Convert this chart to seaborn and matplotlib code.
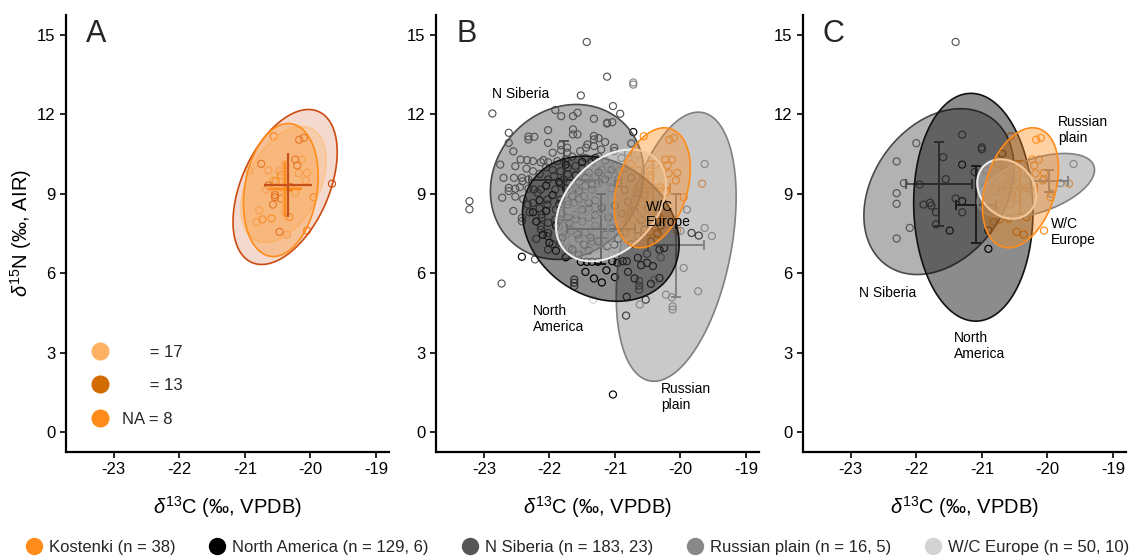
import numpy as np
import pandas as pd
import matplotlib
matplotlib.use("Agg")
import matplotlib.pyplot as plt
import seaborn as sns
from matplotlib.lines import Line2D
from matplotlib.patches import Polygon
from matplotlib.colors import to_rgba

# ---------------- DATA ----------------
# Kostenki points (same in every panel), with sub-group for panel A
kost_light = [(-20.93, 9.88), (-20.64, 9.88), (-20.47, 9.85), (-20.13, 10.29), (-20.18, 9.77),
              (-20.05, 9.79), (-20.78, 8.37), (-20.82, 7.93), (-20.36, 7.46), (-20.56, 9.50),
              (-20.42, 9.22), (-20.32, 9.22), (-20.54, 9.04), (-20.68, 9.16), (-20.38, 10.10),
              (-20.23, 9.04), (-20.07, 9.50)]
kost_dark = [(-20.75, 10.13), (-20.20, 10.07), (-20.23, 10.29), (-19.67, 9.38), (-20.10, 11.11),
             (-20.17, 11.04), (-20.54, 8.87), (-20.45, 8.82), (-20.47, 7.56), (-20.64, 9.31),
             (-20.57, 8.59), (-20.54, 8.95), (-20.30, 9.25)]
kost_na = [(-20.56, 11.17), (-20.45, 9.70), (-20.53, 9.47), (-20.32, 8.12), (-19.95, 8.87),
           (-20.05, 7.61), (-20.59, 8.07), (-20.73, 8.03)]

# Panel B groups
nsib_B = [(-22.87, 12.03), (-22.62, 11.30), (-22.62, 10.92), (-22.32, 11.16), (-22.32, 11.05),
          (-22.23, 11.15), (-22.02, 11.40), (-21.91, 12.16), (-21.82, 11.93), (-21.64, 11.93),
          (-21.57, 12.06), (-21.64, 11.43), (-21.64, 11.24), (-21.57, 11.24), (-22.02, 10.92),
          (-21.82, 10.83), (-21.82, 10.65), (-21.73, 10.74), (-21.73, 10.55), (-22.44, 10.29),
          (-22.34, 10.27), (-22.25, 10.23), (-22.13, 10.19), (-22.09, 10.27), (-22.02, 10.19),
          (-22.52, 10.04), (-22.54, 9.60), (-22.42, 9.60), (-22.41, 9.47), (-22.32, 9.54),
          (-22.62, 9.22), (-22.62, 9.10), (-22.52, 9.19), (-22.72, 8.85), (-22.52, 8.89),
          (-22.32, 9.19), (-22.24, 9.16), (-22.13, 9.16), (-22.18, 9.04), (-22.33, 8.59),
          (-22.42, 8.09), (-22.42, 7.96), (-22.12, 8.22), (-22.12, 8.09), (-22.03, 8.78),
          (-22.03, 8.59), (-21.91, 9.16), (-21.83, 9.39), (-21.78, 9.54), (-21.83, 9.85),
          (-21.72, 9.98), (-21.72, 9.73), (-21.93, 9.66), (-22.02, 9.54), (-21.88, 10.23),
          (-21.83, 8.78), (-21.72, 8.72), (-21.72, 8.59), (-22.13, 7.78), (-22.13, 7.65),
          (-22.02, 7.90), (-22.02, 7.52), (-21.91, 8.03), (-21.83, 8.03), (-21.72, 8.09),
          (-21.62, 8.66), (-21.55, 8.78), (-21.47, 8.91), (-21.53, 10.61), (-21.44, 10.74),
          (-21.43, 14.73), (-21.12, 13.42), (-21.52, 12.71), (-21.03, 12.31), (-20.92, 12.02),
          (-21.12, 11.65), (-23.22, 8.72), (-23.22, 8.41), (-22.73, 5.61), (-22.22, 6.52),
          (-21.32, 11.83), (-21.12, 11.68), (-21.04, 11.70), (-21.32, 11.18), (-21.32, 11.05),
          (-21.42, 10.86), (-21.32, 10.80), (-21.21, 10.67), (-21.01, 10.74), (-21.01, 10.61),
          (-22.03, 7.40), (-22.02, 6.89), (-21.83, 7.15), (-21.62, 5.76), (-21.62, 5.64),
          (-21.62, 5.51), (-20.51, 6.73), (-20.63, 5.71), (-20.63, 5.53), (-20.63, 5.38),
          (-21.45, 10.35), (-21.35, 10.20), (-21.25, 10.40), (-21.15, 10.25), (-21.50, 9.95),
          (-21.40, 9.80), (-21.30, 9.65), (-21.20, 9.90), (-21.10, 9.70), (-21.55, 9.45),
          (-21.45, 9.30), (-21.35, 9.15), (-21.25, 9.40), (-21.60, 9.20), (-21.50, 8.60),
          (-21.40, 8.45), (-21.30, 8.75), (-21.20, 8.50), (-21.60, 8.20), (-21.50, 7.95),
          (-21.40, 8.10), (-21.30, 7.80), (-21.65, 7.60), (-21.55, 7.30), (-21.45, 7.55),
          (-21.35, 7.20), (-21.95, 10.55), (-22.05, 10.00), (-21.95, 9.90), (-22.15, 9.75),
          (-22.25, 9.85), (-22.35, 9.95), (-22.45, 9.25), (-22.40, 8.80), (-22.25, 8.65),
          (-22.15, 8.45), (-22.55, 8.35), (-22.30, 8.30), (-21.90, 8.40), (-21.80, 8.25),
          (-21.85, 7.75), (-21.75, 7.45), (-22.20, 7.30), (-21.95, 7.10), (-21.70, 6.95),
          (-21.05, 9.20), (-20.95, 9.55), (-21.00, 10.05), (-20.90, 10.35), (-20.85, 9.95),
          (-20.80, 10.55), (-20.75, 10.90), (-21.15, 10.95), (-21.25, 11.10), (-21.65, 10.40),
          (-21.75, 10.30), (-21.60, 10.05), (-22.55, 10.60), (-22.70, 9.60), (-22.75, 10.10)]

namer_B = [(-20.72, 11.33), (-22.42, 6.62), (-21.32, 5.80), (-21.13, 6.11), (-21.52, 6.43),
           (-21.43, 6.43), (-21.35, 6.43), (-21.26, 6.43), (-21.04, 6.45), (-20.96, 6.39),
           (-20.88, 6.45), (-20.82, 6.45), (-20.82, 5.11), (-20.83, 4.40), (-20.53, 5.00),
           (-20.32, 5.82), (-21.03, 1.42), (-19.83, 7.52), (-19.72, 7.42), (-20.51, 6.39),
           (-20.32, 6.89), (-20.65, 6.58), (-20.42, 6.27), (-21.01, 7.08), (-21.12, 7.02),
           (-21.57, 7.46), (-21.47, 7.08), (-21.37, 7.34), (-22.15, 8.75), (-22.05, 8.35),
           (-21.95, 8.95), (-21.85, 8.60), (-21.75, 9.20), (-21.65, 8.90), (-21.55, 9.10),
           (-21.45, 9.60), (-21.35, 9.35), (-21.25, 9.80), (-21.15, 9.55), (-21.05, 9.90),
           (-20.95, 9.40), (-20.85, 9.15), (-20.75, 9.60), (-20.65, 9.05), (-21.90, 7.80),
           (-21.80, 7.35), (-21.70, 7.90), (-21.60, 8.05), (-21.50, 8.40), (-21.40, 8.65),
           (-21.30, 8.20), (-21.20, 8.45), (-21.10, 8.10), (-21.00, 8.55), (-20.90, 8.25),
           (-20.80, 8.70), (-20.70, 8.35), (-20.60, 8.00), (-20.50, 8.45), (-20.40, 8.60),
           (-22.10, 7.45), (-22.00, 7.15), (-21.90, 6.85), (-21.75, 6.60), (-21.65, 6.90),
           (-21.55, 6.70), (-21.40, 6.85), (-21.25, 7.20), (-21.15, 7.45), (-21.05, 7.70),
           (-20.95, 7.30), (-20.85, 7.55), (-20.75, 7.10), (-20.65, 7.40), (-20.55, 7.65),
           (-20.45, 7.20), (-20.35, 7.50), (-20.60, 6.30), (-20.80, 6.05), (-21.00, 5.85),
           (-21.20, 5.65), (-21.45, 6.05), (-20.70, 5.80), (-20.45, 5.60), (-21.75, 10.10),
           (-21.50, 10.20), (-21.30, 10.35), (-21.60, 9.70), (-21.85, 9.45), (-22.05, 9.30),
           (-22.25, 8.30), (-22.20, 7.95), (-20.55, 8.95), (-20.35, 8.20), (-20.30, 7.80),
           (-20.25, 6.95)]

rplain_B = [(-19.63, 10.12), (-19.63, 7.71), (-19.52, 7.40), (-19.73, 5.32), (-20.12, 4.75),
            (-20.12, 4.63), (-20.22, 5.19), (-20.62, 4.82), (-20.72, 13.20), (-20.72, 13.12),
            (-20.00, 7.60), (-19.90, 8.40), (-20.30, 6.60), (-19.95, 6.20), (-20.40, 5.75),
            (-20.13, 5.09)]

wceur_B = [(-21.33, 5.00), (-21.75, 7.20), (-21.65, 7.55), (-21.55, 7.85), (-21.45, 7.35),
           (-21.35, 7.70), (-21.25, 8.00), (-21.15, 7.60), (-21.05, 7.95), (-20.95, 8.25),
           (-20.85, 8.60), (-20.75, 8.95), (-20.65, 9.30), (-20.55, 9.65), (-20.45, 9.95),
           (-21.60, 8.30), (-21.50, 8.60), (-21.40, 8.90), (-21.30, 9.20), (-21.20, 9.50),
           (-21.10, 9.80), (-21.00, 10.10), (-20.90, 9.60), (-20.80, 9.90), (-20.70, 10.25),
           (-21.70, 8.00), (-21.80, 7.65), (-21.40, 8.20), (-21.20, 8.70), (-21.00, 9.00),
           (-20.80, 9.30), (-20.60, 8.70), (-20.50, 8.20), (-20.70, 7.80), (-20.90, 7.40),
           (-21.10, 7.10), (-21.30, 6.90), (-21.50, 6.75), (-21.60, 9.10), (-21.35, 9.65),
           (-20.40, 9.20), (-20.35, 8.75), (-21.85, 8.50), (-20.95, 8.80), (-21.15, 9.00),
           (-20.65, 10.50), (-21.05, 6.70), (-21.25, 7.30), (-20.60, 8.20), (-20.75, 7.45)]

# Panel C groups
nsib_C = [(-21.40, 14.73), (-22.00, 10.91), (-22.30, 10.22), (-22.19, 9.40), (-22.30, 9.02),
          (-22.30, 8.62), (-22.10, 7.71), (-22.30, 7.31), (-21.89, 8.59), (-21.79, 8.66),
          (-21.77, 8.55), (-21.70, 8.30), (-21.70, 7.84), (-21.59, 10.38), (-21.30, 11.23),
          (-21.00, 10.75), (-21.00, 10.68), (-21.11, 9.82), (-21.40, 8.82), (-21.30, 8.30),
          (-20.80, 9.10), (-21.95, 9.35), (-21.55, 9.55)]
namer_C = [(-21.30, 10.10), (-21.30, 8.72), (-21.49, 7.61), (-20.90, 6.92), (-20.90, 7.61),
           (-20.69, 10.51)]
rplain_C = [(-19.60, 10.12), (-19.94, 9.00), (-20.05, 9.55), (-20.30, 9.75), (-19.80, 9.40)]
wceur_C = [(-20.85, 9.50), (-20.70, 9.30), (-20.60, 9.00), (-20.45, 9.40), (-20.55, 9.70),
           (-20.35, 9.10), (-20.75, 8.80), (-20.95, 9.25), (-20.40, 8.70), (-20.65, 9.95)]

# Ellipse parameters: centre x, centre y, half-width x, half-height y, correlation
ell_A = {"dark": (-20.385, 9.255, 0.795, 2.925, 0.45),
         "light": (-20.41, 9.35, 0.65, 2.19, 0.42),
         "na": (-20.45, 9.14, 0.57, 2.51, 0.20)}
ell_B = {"N Siberia": (-21.73, 9.445, 1.17, 2.925, 0.12),
         "North America": (-21.215, 7.68, 1.195, 2.74, -0.21),
         "Russian plain": (-20.065, 7.0, 0.915, 5.08, 0.37),
         "W/C Europe": (-21.06, 8.56, 0.84, 2.11, 0.36),
         "Kostenki": (-20.43, 9.225, 0.58, 2.265, 0.32)}
ell_C = {"N Siberia": (-21.655, 9.08, 1.145, 3.13, 0.29),
         "North America": (-21.13, 8.49, 0.91, 4.30, -0.04),
         "Russian plain": (-20.175, 9.305, 0.895, 1.215, 0.49),
         "W/C Europe": (-20.62, 9.18, 0.45, 1.12, -0.20),
         "Kostenki": (-20.41, 9.225, 0.58, 2.265, 0.32)}

# Means and SDs: mean x, mean y, sd x, sd y
cross_A = {"light": (-20.41, 9.22, 0.28, 1.07),
           "dark": (-20.34, 9.33, 0.37, 1.20),
           "na": (-20.38, 9.16, 0.255, 1.035)}
cross_B = {"N Siberia": (-21.78, 9.50, 0.535, 1.495),
           "North America": (-21.21, 7.68, 0.515, 1.325),
           "Russian plain": (-20.07, 7.05, 0.43, 1.955),
           "W/C Europe": (-21.10, 8.25, 0.48, 1.10),
           "Kostenki": (-20.42, 9.22, 0.26, 1.00)}
cross_C = {"N Siberia": (-21.65, 9.38, 0.50, 1.59),
           "North America": (-21.09, 8.59, 0.30, 1.46),
           "Russian plain": (-19.97, 9.48, 0.28, 0.41),
           "W/C Europe": (-20.55, 9.20, 0.30, 0.55),
           "Kostenki": (-20.42, 9.22, 0.26, 1.00)}

groups = ["Kostenki", "North America", "N Siberia", "Russian plain", "W/C Europe"]
legend_labels = ["Kostenki (n = 38)", "North America (n = 129, 6)", "N Siberia (n = 183, 23)",
                 "Russian plain (n = 16, 5)", "W/C Europe (n = 50, 10)"]
a_labels = ["      = 17", "      = 13", "NA = 8"]
x_ticks = [-23, -22, -21, -20, -19]
y_ticks = [0, 3, 6, 9, 12, 15]

# ---------------- STYLE ----------------
sns.set_theme(style="ticks")
plt.rcParams["font.family"] = ["Liberation Sans", "DejaVu Sans"]
plt.rcParams["mathtext.fontset"] = "custom"
plt.rcParams["mathtext.rm"] = "Liberation Sans"
plt.rcParams["mathtext.it"] = "Liberation Sans:italic"

gcol = {"Kostenki": "#FF8C1A", "North America": "#000000", "N Siberia": "#555555",
        "Russian plain": "#888888", "W/C Europe": "#D3D3D3"}
ell_edge = {"Kostenki": "#FF8C1A", "North America": "#111111", "N Siberia": "#4A4A4A",
            "Russian plain": "#808080", "W/C Europe": "#EEEEEE"}
cross_col = {"Kostenki": "#F08A2A", "North America": "#1A1A1A", "N Siberia": "#4E4E4E",
             "Russian plain": "#7E7E7E", "W/C Europe": "#C8C8C8"}
acol = {"light": "#FDB163", "dark": "#D26B00", "na": "#FF8C1A"}
a_pt = {"light": "#FDBB7A", "dark": "#C8501A", "na": "#FF8C1A"}
a_edge = {"light": "#FBC48E", "dark": "#CC4A10", "na": "#FF8C1A"}
a_fill = {"light": "#FDB163", "dark": "#D05A20", "na": "#FF8C1A"}
a_cross = {"light": "#F8A858", "dark": "#C8501A", "na": "#FF8C1A"}

fig = plt.figure(figsize=(11.37, 5.6), dpi=100)
axA = fig.add_axes([0.0580, 0.1929, 0.2841, 0.7804])
axB = fig.add_axes([0.3835, 0.1929, 0.2841, 0.7804])
axC = fig.add_axes([0.7062, 0.1929, 0.2841, 0.7804])


def hollow_scatter(ax, df, palette, order):
    sns.scatterplot(data=df, x="x", y="y", hue="g", hue_order=order, palette=palette,
                    s=26, linewidth=0, ax=ax, legend=False, zorder=1)
    coll = ax.collections[-1]
    fcs = coll.get_facecolors()
    coll.set_edgecolors(fcs)
    coll.set_facecolors("none")
    coll.set_linewidths(0.85)


def ellipse(ax, p, fc, ec, alpha, lw=1.2, z=3):
    cx, cy, sx, sy, r = p
    t = np.linspace(0, 2 * np.pi, 300)
    xs = cx + sx * np.cos(t)
    ys = cy + sy * (r * np.cos(t) + np.sqrt(1 - r * r) * np.sin(t))
    poly = Polygon(np.column_stack([xs, ys]), closed=True, facecolor=to_rgba(fc, alpha),
                   edgecolor=ec, linewidth=lw, zorder=z)
    ax.add_patch(poly)


def cross(ax, p, color, cap, lw=1.4, z=2):
    mx, my, sx, sy = p
    ax.errorbar([mx], [my], xerr=[sx], yerr=[sy], fmt="none", ecolor=color,
                elinewidth=lw, capsize=cap, capthick=lw, zorder=z)


def make_df(d):
    rows = []
    for g, pts in d.items():
        for x, y in pts:
            rows.append((x, y, g))
    return pd.DataFrame(rows, columns=["x", "y", "g"])


kost_all = kost_light + kost_dark + kost_na

# ---- Panel A ----
dfA = make_df({"light": kost_light, "dark": kost_dark, "na": kost_na})
hollow_scatter(axA, dfA, a_pt, ["light", "dark", "na"])
for k in ["dark", "light", "na"]:
    ellipse(axA, ell_A[k], a_fill[k], a_edge[k], 0.22 if k == "dark" else 0.32, lw=1.2)
for k in ["light", "na", "dark"]:
    cross(axA, cross_A[k], a_cross[k], 0, lw=1.6, z=5)

# ---- Panel B ----
dfB = make_df({"N Siberia": nsib_B, "North America": namer_B, "Russian plain": rplain_B,
               "W/C Europe": wceur_B, "Kostenki": kost_all})
hollow_scatter(axB, dfB, gcol, ["N Siberia", "North America", "Russian plain", "W/C Europe", "Kostenki"])
for k in ["N Siberia", "North America", "Russian plain", "W/C Europe", "Kostenki"]:
    cross(axB, cross_B[k], cross_col[k], 3.5, lw=1.4, z=2)
for k in ["Russian plain", "N Siberia", "North America", "W/C Europe", "Kostenki"]:
    ellipse(axB, ell_B[k], gcol[k], ell_edge[k], 0.45 if k != "Kostenki" else 0.40,
            lw=1.5 if k == "W/C Europe" else 1.2)

# ---- Panel C ----
dfC = make_df({"N Siberia": nsib_C, "North America": namer_C, "Russian plain": rplain_C,
               "W/C Europe": wceur_C, "Kostenki": kost_all})
hollow_scatter(axC, dfC, gcol, ["N Siberia", "North America", "Russian plain", "W/C Europe", "Kostenki"])
for k in ["N Siberia", "North America", "Russian plain", "W/C Europe", "Kostenki"]:
    cross(axC, cross_C[k], cross_col[k], 3.5, lw=1.4, z=2)
for k in ["N Siberia", "North America", "Russian plain", "W/C Europe", "Kostenki"]:
    ellipse(axC, ell_C[k], gcol[k], ell_edge[k], 0.45 if k != "Kostenki" else 0.40,
            lw=1.5 if k == "W/C Europe" else 1.2)

# group labels
lab_kw = dict(fontsize=10, color="black", zorder=6, va="center", ha="left", linespacing=1.15)
axB.text(-22.88, 12.75, "N Siberia", **lab_kw)
axB.text(-22.25, 4.27, "North\nAmerica", **lab_kw)
axB.text(-20.30, 1.33, "Russian\nplain", **lab_kw)
axB.text(-20.53, 8.21, "W/C\nEurope", **lab_kw)
axC.text(-19.84, 11.40, "Russian\nplain", **lab_kw)
axC.text(-19.95, 7.56, "W/C\nEurope", **lab_kw)
axC.text(-22.87, 5.27, "N Siberia", **lab_kw)
axC.text(-21.42, 3.25, "North\nAmerica", **lab_kw)

for ax, letter in zip([axA, axB, axC], ["A", "B", "C"]):
    ax.set_xlim(-23.73, -18.80)
    ax.set_ylim(-0.75, 15.75)
    ax.set_xticks(x_ticks)
    ax.set_xticklabels([str(v) for v in x_ticks])
    ax.set_yticks(y_ticks)
    ax.set_yticklabels([str(v) for v in y_ticks])
    ax.tick_params(axis="both", labelsize=12, length=4, width=1.2, color="black",
                   labelcolor="black", direction="out")
    for s in ["left", "bottom"]:
        ax.spines[s].set_linewidth(1.6)
        ax.spines[s].set_color("black")
    sns.despine(ax=ax)
    ax.set_xlabel(r"$\delta^{13}$C (‰, VPDB)", fontsize=14.5, labelpad=12, color="black")
    ax.set_ylabel("")
    ax.grid(False)
    ax.text(0.062, 0.99, letter, transform=ax.transAxes, fontsize=22, va="top", ha="left")

axA.set_ylabel(r"$\delta^{15}$N (‰, AIR)", fontsize=14.5, labelpad=2, color="black")

# Panel A legend
hA = [Line2D([], [], marker="o", linestyle="none", markersize=12, markerfacecolor=acol[k],
             markeredgecolor=acol[k]) for k in ["light", "dark", "na"]]
axA.legend(hA, a_labels, loc="lower left", bbox_to_anchor=(0.06, 0.042), frameon=False,
           fontsize=12, labelspacing=1.12, handlelength=1.0, handletextpad=0.8, borderaxespad=0)

# bottom legend
hL = [Line2D([], [], marker="o", linestyle="none", markersize=11.5, markerfacecolor=gcol[g],
             markeredgecolor=gcol[g]) for g in groups]
fig.legend(hL, legend_labels, loc="lower center", bbox_to_anchor=(0.508, -0.018), ncol=5,
           frameon=False, fontsize=12, handlelength=1.0, handletextpad=0.4, columnspacing=2.0)

fig.savefig("out.png", dpi=100)
